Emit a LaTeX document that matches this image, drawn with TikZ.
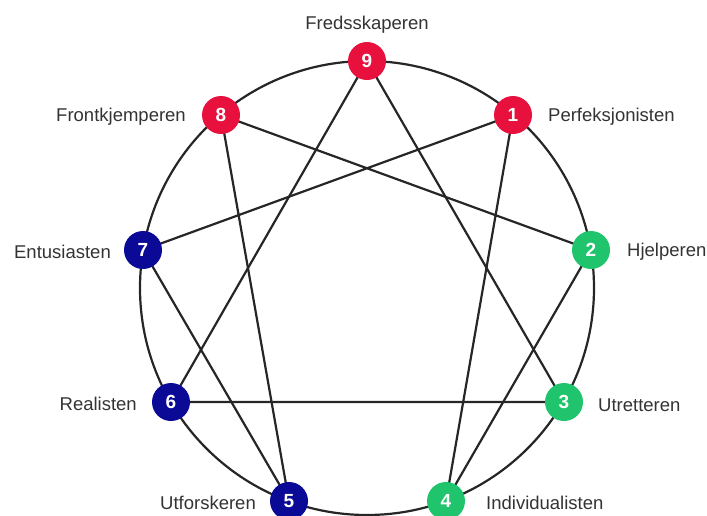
\documentclass[tikz,border=0pt]{standalone}
\usepackage{fontspec}
\setmainfont{Liberation Sans}
\usetikzlibrary{backgrounds}
\definecolor{ered}{HTML}{E8103C}
\definecolor{eblue}{HTML}{0A0A96}
\definecolor{egreen}{HTML}{1FC46C}
\definecolor{etext}{HTML}{333333}
\begin{document}
\begin{tikzpicture}[x=1pt,y=-1pt,
  pt/.style={circle,minimum size=38pt,inner sep=0pt,text=white,font=\fontsize{19}{19}\selectfont\bfseries},
  lbl/.style={text=etext,font=\fontsize{18.5}{20}\selectfont,inner sep=0pt},
  ln/.style={line width=2.2pt,draw=black!85}]
\useasboundingbox (0,0) rectangle (707,515);
\coordinate (c) at (367,288);
\node[pt,fill=ered]   (n9) at (367,61) {9};
\node[pt,fill=ered]   (n1) at (513,115) {1};
\node[pt,fill=egreen] (n2) at (591,250) {2};
\node[pt,fill=egreen] (n3) at (564,402) {3};
\node[pt,fill=egreen] (n4) at (446,501) {4};
\node[pt,fill=eblue]  (n5) at (289,501) {5};
\node[pt,fill=eblue]  (n6) at (171,402) {6};
\node[pt,fill=eblue]  (n7) at (143,250) {7};
\node[pt,fill=ered]   (n8) at (221,115) {8};
\begin{scope}[on background layer]
\draw[ln] (c) circle (227);
\draw[ln] (n1.center) -- (n4.center) -- (n2.center) -- (n8.center) -- (n5.center) -- (n7.center) -- (n1.center);
\draw[ln] (n9.center) -- (n6.center) -- (n3.center) -- (n9.center);
\end{scope}
\node[lbl,anchor=base] (l9) at (367,29) {Fredsskaperen};
\node[lbl,anchor=east] (l8) at (186,117) {Frontkjemperen};
\node[lbl,anchor=west] (l1) at (548,117) {Perfeksjonisten};
\node[lbl,anchor=east] (l7) at (111,252) {Entusiasten};
\node[lbl,anchor=west] (l2) at (627,252) {Hjelperen};
\node[lbl,anchor=east] (l6) at (137,404) {Realisten};
\node[lbl,anchor=west] (l3) at (598,405) {Utretteren};
\node[lbl,anchor=east] (l5) at (256,503) {Utforskeren};
\node[lbl,anchor=west] (l4) at (486,503) {Individualisten};
\end{tikzpicture}
\end{document}
